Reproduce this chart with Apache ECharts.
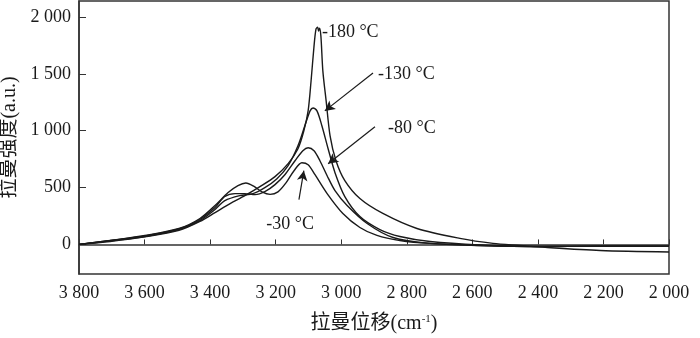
<!DOCTYPE html>
<html>
<head>
<meta charset="utf-8">
<script src="https://cdn.jsdelivr.net/npm/echarts@6/dist/echarts.min.js"></script>
<style>
  html, body { margin: 0; padding: 0; background: #fff; }
  #raman { width: 700px; height: 338px; }
</style>
</head>
<body>
<div id="raman"></div>
<script>
// 拉曼位移 (cm-1) 与强度，按温度分组
var shift30 = [3800, 3705, 3599, 3495, 3431, 3385, 3345, 3315, 3291, 3266, 3242, 3217, 3193, 3168, 3144, 3120, 3101, 3080, 3043, 2995, 2943, 2891, 2821, 2729, 2577, 2394, 2210, 2000];
var int30 = [0, 35, 79, 140, 228, 342, 456, 517, 540, 510, 462, 440, 462, 543, 648, 718, 701, 613, 447, 272, 149, 79, 35, 9, -9, -18, -13, -15];

var shift80 = [3800, 3705, 3599, 3495, 3431, 3385, 3355, 3324, 3294, 3263, 3233, 3202, 3172, 3141, 3117, 3101, 3083, 3065, 3043, 3019, 2982, 2921, 2842, 2729, 2577, 2394, 2210, 2000];
var int80 = [0, 35, 74, 136, 219, 324, 421, 447, 447, 438, 464, 526, 613, 736, 824, 850, 824, 736, 604, 473, 342, 184, 61, 9, -9, -18, -16, -15];

var shift130 = [3800, 3705, 3599, 3495, 3431, 3385, 3355, 3309, 3269, 3233, 3196, 3162, 3132, 3111, 3095, 3086, 3074, 3059, 3040, 3019, 2989, 2943, 2882, 2821, 2729, 2577, 2394, 2210, 2000];
var int130 = [0, 31, 70, 131, 210, 307, 385, 429, 447, 499, 578, 692, 867, 1043, 1174, 1200, 1174, 1043, 841, 631, 421, 245, 131, 70, 26, -4, -18, -16, -15];

var shift180 = [3800, 3705, 3599, 3495, 3431, 3385, 3339, 3294, 3248, 3202, 3162, 3132, 3114, 3101, 3092, 3083, 3077, 3072, 3069, 3066, 3062, 3056, 3046, 3034, 3016, 2989, 2943, 2873, 2769, 2638, 2537, 2455, 2378, 2210, 2000];
var int180 = [0, 26, 66, 123, 202, 280, 359, 429, 508, 596, 710, 841, 999, 1174, 1437, 1743, 1892, 1910, 1875, 1901, 1831, 1524, 1262, 955, 736, 561, 403, 272, 140, 53, 9, -9, -26, -53, -66];

var yTicks = [0, 500, 1000, 1500, 2000];

// 标注：文字位置与箭头（数据坐标）
var labelNames = ['-180 °C', '-130 °C', '-80 °C', '-30 °C'];
var labelAt = [[3059, 1866], [2888, 1498], [2857, 1025], [3156, 175]];
var arrowFrom = [[2903, 1507], [2897, 1034], [3129, 394]];
var arrowTo = [[3050, 1174], [3040, 710], [3114, 648]];

var serif = '"Liberation Serif", "Noto Sans CJK SC", serif';
var ink = '#1a1a1a';

function zip(xs, ys) {
  return xs.map(function (x, i) { return [x, ys[i]]; });
}

function fmt(v) {
  return String(v).replace(/\B(?=(\d{3})+(?!\d))/g, ' ');
}

var chart = echarts.init(document.getElementById('raman'));

function curve(name, xs, ys) {
  return {
    name: name,
    type: 'line',
    data: zip(xs, ys),
    showSymbol: false,
    smooth: 0.3,
    lineStyle: { color: ink, width: 1.4 },
    silent: true
  };
}

var series = [
  curve('-30', shift30, int30),
  curve('-80', shift80, int80),
  curve('-130', shift130, int130),
  curve('-180', shift180, int180)
];

series[0].markLine = {
  silent: true,
  symbol: ['none', 'arrow'],
  symbolSize: [8, 10],
  label: { show: false },
  lineStyle: { color: ink, width: 1.2, type: 'solid' },
  data: arrowFrom.map(function (p, i) {
    return [{ coord: p }, { coord: arrowTo[i] }];
  })
};

series[1].markPoint = {
  silent: true,
  symbol: 'circle',
  symbolSize: 0,
  data: labelNames.map(function (t, i) {
    return {
      coord: labelAt[i],
      value: t,
      label: {
        show: true,
        formatter: t,
        position: i === 3 ? 'inside' : 'right',
        distance: 0,
        color: ink,
        fontFamily: serif,
        fontSize: 18
      }
    };
  })
};

var option = {
  animation: false,
  grid: {
    left: 79, right: 31, top: 1, bottom: 64,
    containLabel: false,
    outerBoundsMode: 'none',
    show: true, borderColor: '#333', borderWidth: 1.5
  },
  xAxis: {
    type: 'value',
    min: 2000, max: 3800, interval: 200,
    inverse: true,
    name: '拉曼位移(cm{sup|-1})',
    nameLocation: 'middle',
    nameGap: 40,
    nameTextStyle: {
      fontFamily: serif, fontSize: 20, color: ink,
      rich: { sup: { fontFamily: serif, fontSize: 11, color: ink, padding: [0, 0, 9, 0] } }
    },
    axisLine: { lineStyle: { color: '#333', width: 1.5 } },
    axisTick: { inside: true, length: 5, lineStyle: { color: '#333' } },
    axisLabel: { fontFamily: serif, fontSize: 18, color: ink, margin: 10, formatter: fmt },
    splitLine: { show: false }
  },
  yAxis: {
    type: 'value',
    min: -260, max: 2140,
    name: '拉曼强度(a.u.)',
    nameLocation: 'middle',
    nameGap: 57,
    nameTextStyle: { fontFamily: serif, fontSize: 20, color: ink },
    axisLine: { show: true, lineStyle: { color: '#333', width: 1.5 } },
    axisTick: { inside: true, length: 7, customValues: yTicks, lineStyle: { color: '#333' } },
    axisLabel: { fontFamily: serif, fontSize: 18, color: ink, margin: 8, customValues: yTicks, formatter: fmt },
    splitLine: { show: false }
  },
  series: series
};

chart.setOption(option);
</script>
</body>
</html>
